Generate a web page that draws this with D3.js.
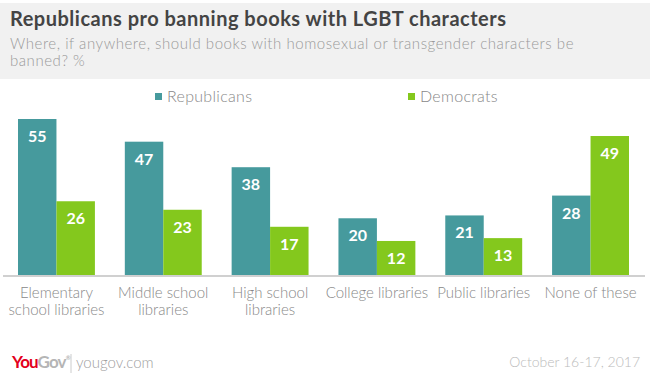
<!DOCTYPE html>
<html>
<head>
<meta charset="utf-8">
<script src="https://cdnjs.cloudflare.com/ajax/libs/d3/7.8.5/d3.min.js"></script>
<style>
  body { margin: 0; background: #fff; }
  svg { display: block; font-family: Lato, "Open Sans", sans-serif; }
</style>
</head>
<body>
<svg id="chart"></svg>
<script>
// data
const categories = [
  ["Elementary", "school libraries"],
  ["Middle school", "libraries"],
  ["High school", "libraries"],
  ["College libraries"],
  ["Public libraries"],
  ["None of these"]
];
const seriesNames = ["Republicans", "Democrats"];
const republicans = [55, 47, 38, 20, 21, 28];
const democrats = [26, 23, 17, 12, 13, 49];

const colors = ["#469a9d", "#84c81d"];
const width = 650, height = 376;
const baseY = 275;

const svg = d3.select("#chart")
    .attr("width", width)
    .attr("height", height);

// header block
svg.append("rect")
    .attr("x", 0).attr("y", 3)
    .attr("width", width).attr("height", 76)
    .attr("fill", "#f1f1f1");

svg.append("text")
    .attr("x", 10).attr("y", 26)
    .attr("font-size", "20px")
    .attr("font-weight", "bold")
    .attr("letter-spacing", "0.5px")
    .attr("fill", "#444")
    .text("Republicans pro banning books with LGBT characters");

const subtitle = ["Where, if anywhere, should books with homosexual or transgender characters be", "banned? %"];
svg.selectAll(".sub")
    .data(subtitle)
    .join("text")
    .attr("class", "sub")
    .attr("x", 10)
    .attr("y", (d, i) => 49 + i * 17)
    .attr("font-size", "15px")
    .attr("font-weight", 300)
    .attr("letter-spacing", "0.55px")
    .attr("fill", "#9a9a9a")
    .text(d => d);

// legend
const legendX = [155, 408];
seriesNames.forEach((name, i) => {
  svg.append("rect")
      .attr("x", legendX[i]).attr("y", 93)
      .attr("width", 7).attr("height", 7)
      .attr("fill", colors[i]);
  svg.append("text")
      .attr("x", legendX[i] + 12).attr("y", 102)
      .attr("font-size", "16px")
      .attr("font-weight", 300)
      .attr("letter-spacing", "0.3px")
      .attr("fill", "#888")
      .text(name);
});

// scales
const x0 = d3.scaleBand()
    .domain(d3.range(categories.length))
    .range([18, 629])
    .paddingInner(0.28)
    .paddingOuter(0);

const x1 = d3.scaleBand()
    .domain(d3.range(seriesNames.length))
    .range([0, x0.bandwidth()]);

const y = d3.scaleLinear()
    .domain([0, 55])
    .range([baseY, 119]);

const rows = categories.map((c, i) => [republicans[i], democrats[i]]);

const groups = svg.selectAll(".group")
    .data(rows)
    .join("g")
    .attr("class", "group")
    .attr("transform", (d, i) => `translate(${x0(i)},0)`);

groups.selectAll("rect")
    .data(d => d)
    .join("rect")
    .attr("x", (d, j) => x1(j))
    .attr("y", d => y(d))
    .attr("width", x1.bandwidth())
    .attr("height", d => baseY - y(d))
    .attr("fill", (d, j) => colors[j]);

groups.selectAll(".val")
    .data(d => d)
    .join("text")
    .attr("class", "val")
    .attr("x", (d, j) => x1(j) + x1.bandwidth() / 2)
    .attr("y", d => y(d) + 23)
    .attr("text-anchor", "middle")
    .attr("font-size", "16px")
    .attr("font-weight", "bold")
    .attr("fill", "#fff")
    .text(d => d);

// baseline
svg.append("line")
    .attr("x1", 3).attr("x2", 645)
    .attr("y1", baseY + 1).attr("y2", baseY + 1)
    .attr("stroke", "#d0d0d0")
    .attr("stroke-width", 2);

// category labels
const labels = svg.selectAll(".cat")
    .data(categories)
    .join("text")
    .attr("class", "cat")
    .attr("text-anchor", "middle")
    .attr("font-size", "15px")
    .attr("font-weight", 300)
    .attr("fill", "#888");

labels.selectAll("tspan")
    .data((d, i) => d.map(line => ({ line, i })))
    .join("tspan")
    .attr("x", d => x0(d.i) + x0.bandwidth() / 2)
    .attr("y", (d, k) => 298 + k * 17)
    .text(d => d.line);

// footer
const logo = svg.append("text")
    .attr("x", 12).attr("y", 368)
    .attr("font-size", "17px")
    .attr("font-weight", "bold")
    .attr("letter-spacing", "-0.9px");
logo.append("tspan").attr("fill", "#e3001b").text("You");
logo.append("tspan").attr("fill", "#b5b5b5").text("Gov");
logo.append("tspan")
    .attr("fill", "#b5b5b5")
    .attr("font-size", "6px")
    .attr("dy", "-8")
    .text("®");

svg.append("line")
    .attr("x1", 71).attr("x2", 71)
    .attr("y1", 354).attr("y2", 373)
    .attr("stroke", "#ccc");

svg.append("text")
    .attr("x", 76).attr("y", 368)
    .attr("font-size", "15px")
    .attr("font-weight", 300)
    .attr("fill", "#a0a0a0")
    .text("yougov.com");

svg.append("text")
    .attr("x", 640).attr("y", 367)
    .attr("text-anchor", "end")
    .attr("font-size", "14px")
    .attr("font-weight", 300)
    .attr("fill", "#bbb")
    .text("October 16-17, 2017");
</script>
</body>
</html>
